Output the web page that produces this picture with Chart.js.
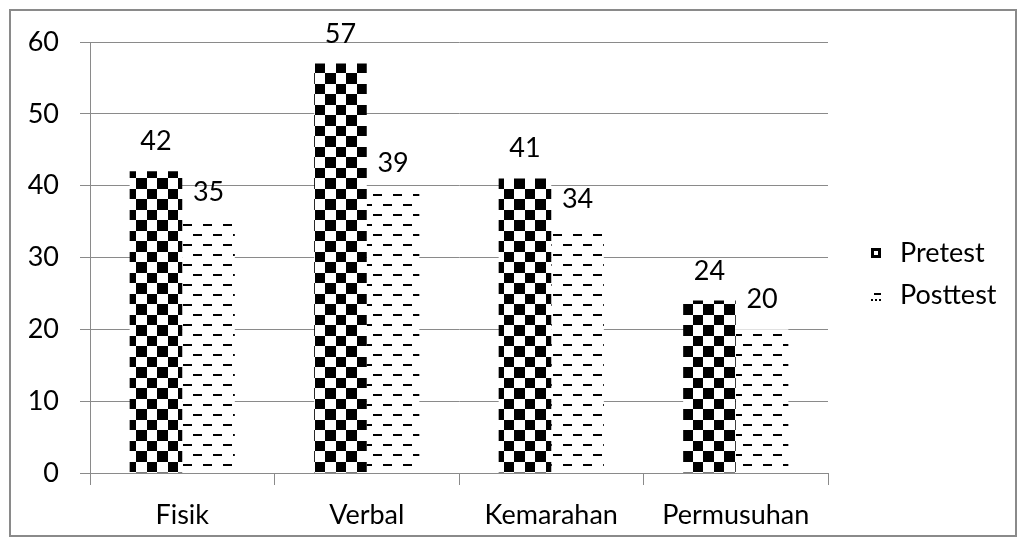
<!DOCTYPE html>
<html>
<head>
<meta charset="utf-8">
<script src="https://cdn.jsdelivr.net/npm/chart.js@4.4.1/dist/chart.umd.min.js"></script>
<style>
  html, body { margin: 0; padding: 0; background: #fff; }
  #wrap { position: relative; width: 1024px; height: 545px; }
</style>
</head>
<body>
<div id="wrap"><canvas id="chart" width="1024" height="545"></canvas></div>
<script>
// data
const categories = ['Fisik', 'Verbal', 'Kemarahan', 'Permusuhan'];
const pretest = [42, 57, 41, 24];
const posttest = [35, 39, 34, 20];
const seriesNames = ['Pretest', 'Posttest'];
const yTicks = [0, 10, 20, 30, 40, 50, 60];

const FONT = 'Lato, "Open Sans", sans-serif';
const FSIZE = 27;
const GRID = '#8a8a8a';

// checkerboard fill for pretest
function checker() {
  const c = document.createElement('canvas');
  c.width = 21; c.height = 21;
  const g = c.getContext('2d');
  g.fillStyle = '#fff'; g.fillRect(0, 0, 21, 21);
  g.fillStyle = '#000';
  g.fillRect(0, 0, 10, 10);
  g.fillRect(10, 10, 11, 11);
  return g.createPattern(c, 'repeat');
}
// staggered dashes for posttest
function dashes() {
  const c = document.createElement('canvas');
  c.width = 20; c.height = 20;
  const g = c.getContext('2d');
  g.fillStyle = '#fff'; g.fillRect(0, 0, 20, 20);
  g.fillStyle = '#000';
  g.fillRect(3, 4, 9, 2);
  g.fillRect(13, 14, 7, 2);
  g.fillRect(0, 14, 2, 2);
  return g.createPattern(c, 'repeat');
}

const pats = [checker(), dashes()];

const frame = {
  id: 'frame',
  beforeDraw(chart) {
    const ctx = chart.ctx;
    ctx.save();
    ctx.strokeStyle = '#8a8a8a';
    ctx.lineWidth = 2;
    ctx.strokeRect(10, 10, 1006, 526);
    ctx.restore();
  }
};

const valueLabels = {
  id: 'valueLabels',
  afterDatasetsDraw(chart) {
    const ctx = chart.ctx;
    ctx.save();
    ctx.font = FSIZE + 'px ' + FONT;
    ctx.fillStyle = '#000';
    ctx.textAlign = 'center';
    ctx.textBaseline = 'alphabetic';
    chart.data.datasets.forEach((ds, i) => {
      chart.getDatasetMeta(i).data.forEach((bar, j) => {
        ctx.fillText(ds.data[j], bar.x, bar.y - 21);
      });
    });
    ctx.restore();
  }
};

const sideLegend = {
  id: 'sideLegend',
  afterDraw(chart) {
    const ctx = chart.ctx;
    ctx.save();
    ctx.font = FSIZE + 'px ' + FONT;
    ctx.textBaseline = 'middle';
    const x = 871, ys = [253, 295];
    // pretest marker: framed square
    ctx.fillStyle = '#000';
    ctx.fillRect(x, ys[0] - 5, 10, 10);
    ctx.fillStyle = '#fff';
    ctx.fillRect(x + 3, ys[0] - 2, 4, 4);
    // posttest marker: small dashes
    ctx.fillStyle = '#000';
    ctx.fillRect(x + 3, ys[1] - 2, 7, 2);
    ctx.fillRect(x, ys[1] + 4, 2, 2);
    ctx.fillRect(x + 4, ys[1] + 4, 2, 2);
    ctx.fillRect(x + 8, ys[1] + 4, 2, 2);
    seriesNames.forEach((n, i) => ctx.fillText(n, x + 29, ys[i]));
    ctx.restore();
  }
};

new Chart(document.getElementById('chart'), {
  type: 'bar',
  data: {
    labels: categories,
    datasets: [
      { label: seriesNames[0], data: pretest, backgroundColor: pats[0] },
      { label: seriesNames[1], data: posttest, backgroundColor: pats[1] }
    ]
  },
  options: {
    responsive: false,
    animation: false,
    events: [],
    layout: { padding: { left: 10, top: 42, right: 196, bottom: 0 } },
    datasets: { bar: { categoryPercentage: 0.57, barPercentage: 1 } },
    plugins: { legend: { display: false }, tooltip: { enabled: false } },
    scales: {
      x: {
        grid: { display: true, drawOnChartArea: false, color: GRID, tickLength: 12, offset: true },
        border: { color: GRID },
        ticks: { font: { size: FSIZE, family: FONT }, color: '#000', padding: 14 },
        afterFit: s => { s.height = 72; }
      },
      y: {
        min: 0, max: 60,
        afterBuildTicks: s => { s.ticks = yTicks.map(v => ({ value: v })); },
        grid: { color: GRID, tickLength: 10 },
        border: { color: GRID },
        ticks: { font: { size: FSIZE, family: FONT }, color: '#000', padding: 21 },
        afterFit: s => { s.width = 80; }
      }
    }
  },
  plugins: [frame, valueLabels, sideLegend]
});
</script>
</body>
</html>
